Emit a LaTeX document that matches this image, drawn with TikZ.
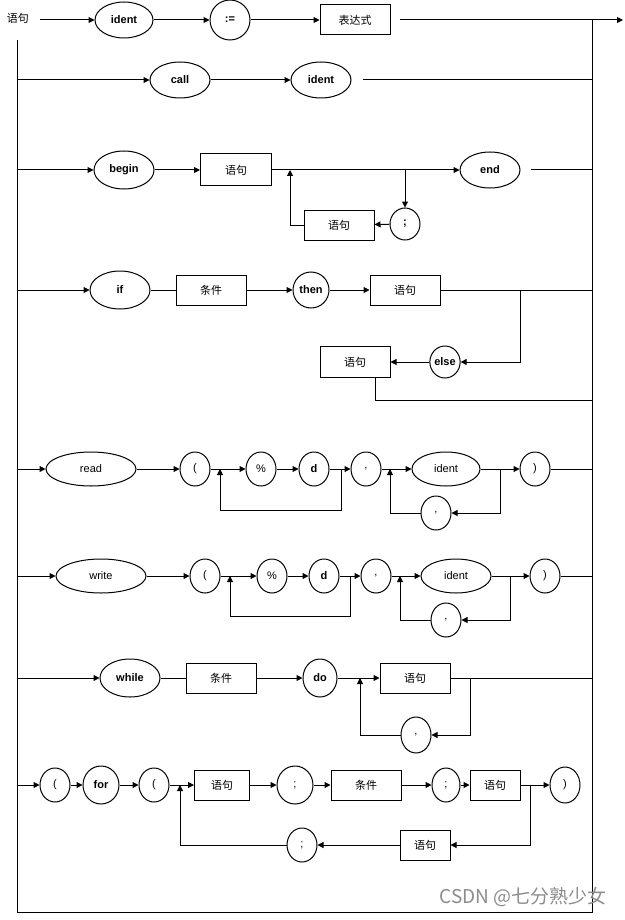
\documentclass[tikz,border=0pt]{standalone}
\usepackage{fontspec}
\setmainfont{Liberation Sans}
\newfontfamily\cjk{Noto Sans CJK SC}
\usetikzlibrary{arrows.meta,shapes.geometric,calc}
\tikzset{
  lab/.style={font=\fontsize{11}{13}\selectfont},
  labb/.style={font=\fontsize{11}{13}\selectfont\bfseries},
  ov/.style={draw, ellipse, inner sep=0pt, lab},
  ovb/.style={draw, ellipse, inner sep=0pt, labb},
  bx/.style={draw, rectangle, minimum width=70pt, minimum height=30pt, inner sep=0pt, lab},
  ar/.style={-{Triangle[length=6pt,width=6pt]}},
  every path/.style={line width=1pt}
}
\begin{document}
\begin{tikzpicture}[x=1pt,y=-1pt]
\useasboundingbox[fill=white] (0,0) rectangle (624,920);
% frame
\coordinate (lft) at (17,0);
\coordinate (rgt) at (592,0);
\coordinate (TL) at (17,40);
\coordinate (BL) at (17,912);
\coordinate (BR) at (592,912);
\coordinate (TR) at (592,20);
\draw (TL) -- (BL) -- (BR) -- (TR);

% row 1
\node[lab, anchor=west] (title) at (3,18) {\cjk 语句};
\coordinate (s1) at (40,20);
\node[ovb, minimum width=58pt, minimum height=36pt] (id1) at (124,20) {ident};
\node[ovb, minimum width=40pt, minimum height=40pt] (asg) at (230,20) {:=};
\node[bx] (expr) at (355,20) {\cjk 表达式};
\coordinate (e1a) at (400,20);
\coordinate (e1b) at (623,20);
\draw[ar] (s1) -- (id1);
\draw[ar] (id1) -- (asg);
\draw[ar] (asg) -- (expr);
\draw[ar] (e1a) -- (e1b);

% row 2
\node[ovb, minimum width=60pt, minimum height=36pt] (call) at (180,80) {call};
\node[ovb, minimum width=60pt, minimum height=36pt] (id2) at (321,80) {ident};
\draw[ar] (call -| lft) -- (call);
\draw[ar] (call) -- (id2);
\draw ($(id2.east)+(11,0)$) -- (id2 -| rgt);

% row 3
\node[ovb, minimum width=60pt, minimum height=38pt] (begin) at (124,170) {begin};
\node[bx, minimum width=71pt, minimum height=32pt] (s3) at (236,170) {\cjk 语句};
\node[ovb, minimum width=60pt, minimum height=36pt] (end) at (490,170) {end};
\node[ovb, minimum width=30pt, minimum height=32pt] (semi) at (405,224) {;};
\node[bx, minimum height=30pt] (s3b) at (339,225) {\cjk 语句};
\coordinate (j3) at (290,170);
\draw[ar] (begin -| lft) -- (begin);
\draw[ar] (begin) -- (s3);
\draw[ar] (s3) -- (end);
\draw ($(end.east)+(10,0)$) -- (end -| rgt);
\draw[ar] (s3 -| semi) -- (semi);
\draw[ar] (semi) -- (s3b);
\draw[ar] (s3b.west) -| (j3);

% row 4
\node[ovb, minimum width=60pt, minimum height=38pt] (if) at (120,290) {if};
\node[bx] (cond4) at (211,290) {\cjk 条件};
\node[ovb, minimum width=36pt, minimum height=36pt] (then) at (311,290) {then};
\node[bx] (s4) at (405,290) {\cjk 语句};
\node[ovb, minimum width=28pt, minimum height=32pt] (else) at (445,362) {else};
\node[bx, minimum height=31pt] (s4b) at (355,362) {\cjk 语句};
\coordinate (j4) at (520,290);
\coordinate (j4b) at (592,400);
\draw[ar] (if -| lft) -- (if);
\draw (if) -- (cond4);
\draw[ar] (cond4) -- (then);
\draw[ar] (then) -- (s4);
\draw (s4) -- (s4 -| rgt);
\draw[ar] (j4) |- (else);
\draw[ar] (else) -- (s4b);
\draw ($(s4b.south)+(20,0)$) |- (j4b);

% row 5 read
\node[ov, minimum width=90pt, minimum height=34pt] (read) at (91,469) {read};
\node[ov, minimum width=30pt, minimum height=34pt] (lp5) at (195,469) {(};
\node[ov, minimum width=30pt, minimum height=34pt] (pc5) at (261,469) {\%};
\node[ovb, minimum width=30pt, minimum height=34pt] (d5) at (314,469) {d};
\node[ov, minimum width=30pt, minimum height=34pt] (cm5) at (366,469) {,};
\node[ov, minimum width=68pt, minimum height=34pt] (id5) at (446,469) {ident};
\node[ov, minimum width=30pt, minimum height=34pt] (rp5) at (535,469) {)};
\node[ov, minimum width=30pt, minimum height=34pt] (cm5b) at (436,513) {,};
\coordinate (a5) at (220,469);
\coordinate (b5) at (341,469);
\coordinate (c5) at (500,469);
\coordinate (e5) at (390,469);
\draw[ar] (read -| lft) -- (read);
\draw[ar] (read) -- (lp5);
\draw[ar] (lp5) -- (pc5);
\draw[ar] (pc5) -- (d5);
\draw[ar] (d5) -- (cm5);
\draw[ar] (b5) -- ++(0,41) -| (a5);
\draw[ar] (cm5) -- (id5);
\draw[ar] (id5) -- (rp5);
\draw[ar] (c5) |- (cm5b);
\draw[ar] (cm5b) -| (e5);
\draw (rp5) -- (rp5 -| rgt);

% row 6 write
\node[ov, minimum width=90pt, minimum height=34pt] (write) at (101,576) {write};
\node[ov, minimum width=30pt, minimum height=34pt] (lp6) at (205,576) {(};
\node[ov, minimum width=30pt, minimum height=34pt] (pc6) at (272,576) {\%};
\node[ovb, minimum width=30pt, minimum height=34pt] (d6) at (324,576) {d};
\node[ov, minimum width=30pt, minimum height=34pt] (cm6) at (376,576) {,};
\node[ov, minimum width=70pt, minimum height=34pt] (id6) at (456,576) {ident};
\node[ov, minimum width=30pt, minimum height=34pt] (rp6) at (545,576) {)};
\node[ov, minimum width=30pt, minimum height=34pt] (cm6b) at (446,620) {,};
\coordinate (a6) at (230,576);
\coordinate (b6) at (350,576);
\coordinate (c6) at (510,576);
\coordinate (e6) at (400,576);
\draw[ar] (write -| lft) -- (write);
\draw[ar] (write) -- (lp6);
\draw[ar] (lp6) -- (pc6);
\draw[ar] (pc6) -- (d6);
\draw[ar] (d6) -- (cm6);
\draw[ar] (b6) -- ++(0,40) -| (a6);
\draw[ar] (cm6) -- (id6);
\draw[ar] (id6) -- (rp6);
\draw[ar] (c6) |- (cm6b);
\draw[ar] (cm6b) -| (e6);
\draw (rp6) -- (rp6 -| rgt);

% row 7 while
\node[ovb, minimum width=60pt, minimum height=38pt] (while) at (130,678) {while};
\node[bx] (cond7) at (221,678) {\cjk 条件};
\node[ovb, minimum width=34pt, minimum height=38pt] (do) at (320,678) {do};
\node[bx] (s7) at (415,678) {\cjk 语句};
\node[ov, minimum width=30pt, minimum height=36pt] (cm7) at (416,735) {,};
\coordinate (c7) at (470,678);
\coordinate (e7) at (360,678);
\draw[ar] (while -| lft) -- (while);
\draw (while) -- (cond7);
\draw[ar] (cond7) -- (do);
\draw[ar] (do) -- (s7);
\draw (s7) -- (s7 -| rgt);
\draw[ar] (c7) |- (cm7);
\draw[ar] (cm7) -| (e7);

% row 8 for
\node[ov, minimum width=30pt, minimum height=34pt] (lp8) at (55,785) {(};
\node[ovb, minimum width=36pt, minimum height=38pt] (for) at (101,785) {for};
\node[ov, minimum width=30pt, minimum height=34pt] (lp8b) at (154,785) {(};
\node[bx, minimum width=55pt] (s8) at (222,785) {\cjk 语句};
\node[ov, minimum width=36pt, minimum height=38pt] (sc8) at (295,785) {;};
\node[bx] (cond8) at (366,785) {\cjk 条件};
\node[ov, minimum width=28pt, minimum height=34pt] (sc8b) at (446,785) {;};
\node[bx, minimum width=50pt] (s8b) at (495,785) {\cjk 语句};
\node[ov, minimum width=30pt, minimum height=36pt] (rp8) at (565,785) {)};
\node[bx, minimum width=50pt] (s8c) at (425,845) {\cjk 语句};
\node[ov, minimum width=30pt, minimum height=34pt] (sc8c) at (302,845) {;};
\coordinate (a8) at (180,785);
\coordinate (c8) at (530,785);
\draw[ar] (lp8 -| lft) -- (lp8);
\draw[ar] (lp8) -- (for);
\draw[ar] (for) -- (lp8b);
\draw[ar] (lp8b) -- (s8);
\draw[ar] (s8) -- (sc8);
\draw[ar] (sc8) -- (cond8);
\draw[ar] (cond8) -- (sc8b);
\draw[ar] (sc8b) -- (s8b);
\draw[ar] (s8b) -- (rp8);
\draw[ar] (c8) |- (s8c);
\draw[ar] (s8c) -- (sc8c);
\draw[ar] (sc8c) -| (a8);

% watermark
\node[text=black!45, font=\cjk\fontsize{19}{22}\selectfont, anchor=east, inner sep=0pt] (wm) at (607,897) {CSDN @七分熟少女};
\end{tikzpicture}
\end{document}
